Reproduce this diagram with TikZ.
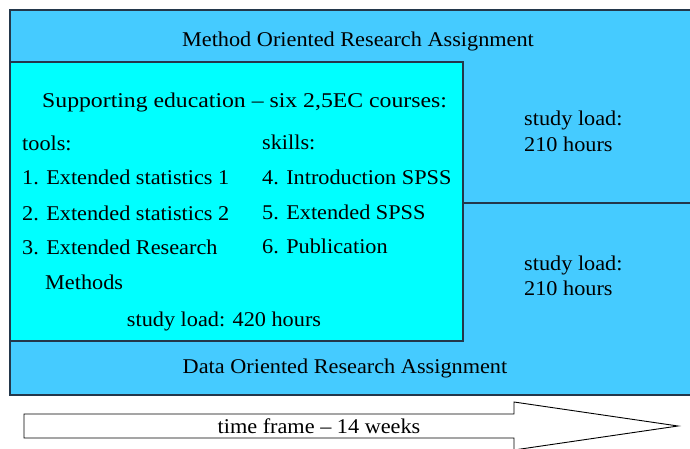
\documentclass[tikz,border=0pt]{standalone}
\usepackage{fontspec}
\setmainfont{Liberation Serif}[FakeStretch=1.06]
\newfontfamily\widefont{Liberation Serif}[FakeStretch=1.13,Ligatures=TeX]
\usepackage{xcolor}
\usepackage{tikz}
\usetikzlibrary{positioning,calc}

\definecolor{assignblue}{RGB}{69,203,255}
\definecolor{courscyan}{RGB}{0,255,255}
\definecolor{edgegray}{RGB}{35,55,75}

\begin{document}
\begin{tikzpicture}[x=1pt,y=-1pt,
    txt/.style={inner sep=0pt,anchor=base west,font=\fontsize{21}{25}\selectfont},
    ctxt/.style={txt,anchor=base},
    frame/.style={draw=edgegray,line width=1.3pt}]
    \useasboundingbox (0,0) rectangle (690,449);
    \clip (0,0) rectangle (690,449);
    % Research assignments
    \filldraw[frame,fill=assignblue] (10,10) rectangle (700,395);
    \draw[frame] (463,203) -- (700,203);
    \node[ctxt] (method) at (358,47) {Method Oriented Research Assignment};
    \node[ctxt] (data) at (345,373) {Data Oriented Research Assignment};
    \node[txt] (loadA) at (524,126) {study load:};
    \node[txt] (hoursA) at (524,152) {210 hours};
    \node[txt] (loadB) at (524,270) {study load:};
    \node[txt] (hoursB) at (524,295) {210 hours};

    % Supporting education
    \filldraw[frame,fill=courscyan] (10,62) rectangle (463,341);
    \node[txt,font=\fontsize{21}{25}\widefont] (supp) at (42,108) {Supporting education -- six 2,5EC courses:};
    \node[txt] (tools) at (22,151) {tools:};
    \node[txt] (t1) at (22,185) {1. Extended statistics 1};
    \node[txt] (t2) at (22,220) {2. Extended statistics 2};
    \node[txt] (t3) at (22,254) {3. Extended Research};
    \node[txt] (t3b) at (45,289) {Methods};
    \node[txt] (skills) at (262,150) {skills:};
    \node[txt] (s4) at (262,185) {4. Introduction SPSS};
    \node[txt] (s5) at (262,219) {5. Extended SPSS};
    \node[txt] (s6) at (262,253) {6. Publication};
    \node[ctxt] (load420) at (224,326) {study load: 420 hours};

    % Time frame
    \draw[line width=0.9pt,fill=white] (24,414) -- (514,414) -- (514,402) -- (678,426)
        -- (514,450) -- (514,438) -- (24,438) -- cycle;
    \node[ctxt] (time) at (319,433) {time frame -- 14 weeks};
\end{tikzpicture}
\end{document}
